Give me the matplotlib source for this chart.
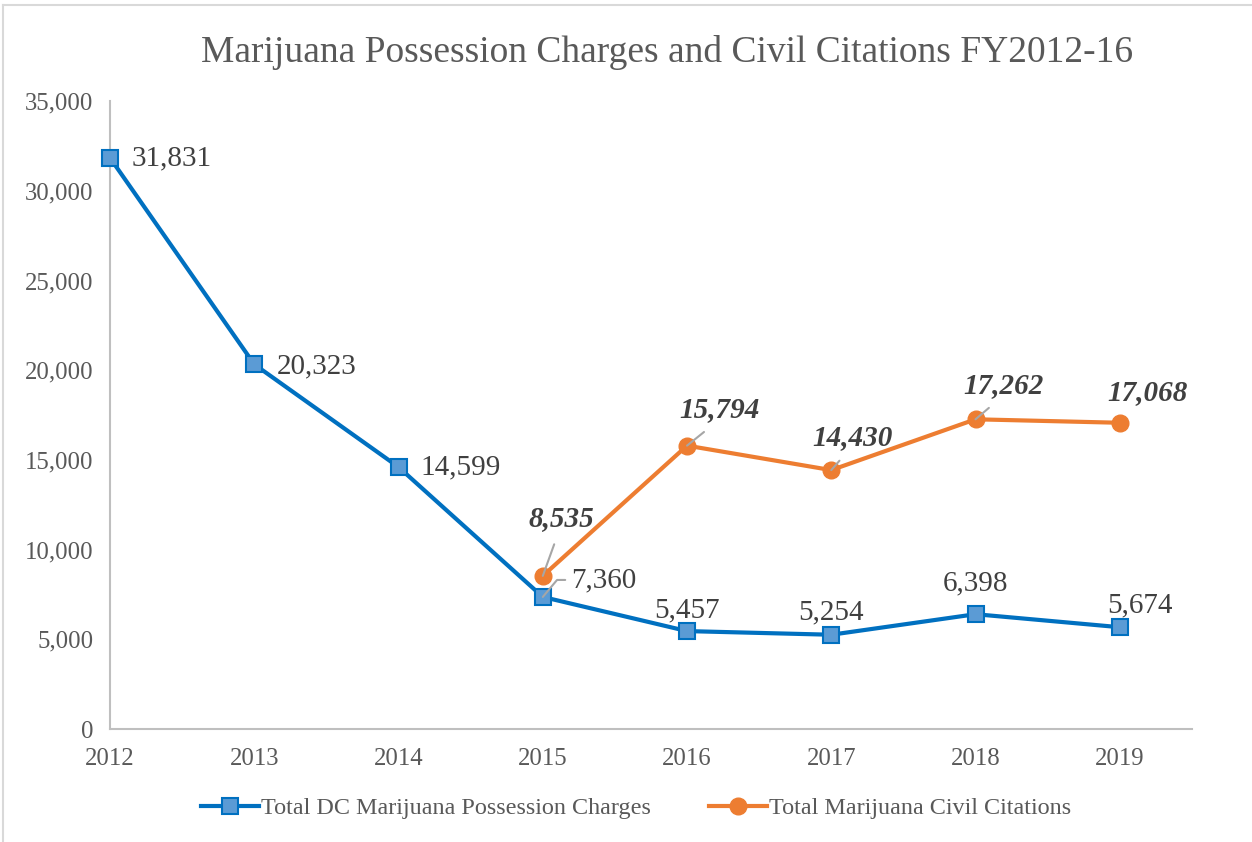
import matplotlib
matplotlib.use("Agg")
import matplotlib.pyplot as plt
from matplotlib.lines import Line2D

years = ["2012", "2013", "2014", "2015", "2016", "2017", "2018", "2019"]
charges = [31831, 20323, 14599, 7360, 5457, 5254, 6398, 5674]
citation_years = ["2015", "2016", "2017", "2018", "2019"]
citations = [8535, 15794, 14430, 17262, 17068]

# label offsets in pixels (dx, dy) and whether a leader line is drawn
charge_offsets = [(22, 0, "left"), (22, -2, "left"), (22, 0, "left"), (28, 17, "left"),
                  (0, 21, "center"), (0, 22, "center"), (0, 31, "center"), (20, 22, "center")]
citation_offsets = [(19, 57, True), (32, 36, True), (21, 33, True), (28, 34, True), (28, 30, False)]

BLUE = "#0070C0"
BLUE_FILL = "#5B9BD5"
ORANGE = "#ED7D31"
GRAY_TXT = "#595959"
DARK_TXT = "#404040"
LEADER = "#A6A6A6"
SERIF = ["Liberation Serif", "DejaVu Serif"]

plt.rcParams["font.family"] = SERIF

fig = plt.figure(figsize=(12.52, 8.42), dpi=100)
ax = fig.add_axes([0.0879, 0.1342, 0.8641, 0.7458])

x_c = list(range(len(years)))
x_o = [years.index(y) for y in citation_years]

ax.plot(x_c, charges, color=BLUE, lw=3, marker="s", ms=11,
        mfc=BLUE_FILL, mec=BLUE, mew=1.5, zorder=3, clip_on=False)
ax.plot(x_o, citations, color=ORANGE, lw=3, marker="o", ms=12,
        mfc=ORANGE, mec=ORANGE, zorder=3, clip_on=False)

for xi, v, (dx, dy, ha) in zip(x_c, charges, charge_offsets):
    kw = {}
    if xi == 3:
        kw = dict(arrowprops=dict(arrowstyle="-", color=LEADER, lw=1.5,
                                  shrinkA=2, shrinkB=0, relpos=(0, 0.5),
                                  connectionstyle="angle,angleA=0,angleB=50,rad=0"))
    ax.annotate(f"{v:,}", (xi, v), xytext=(dx, dy), textcoords="offset pixels",
                ha=ha, va="center", fontsize=21, color=DARK_TXT, zorder=4, **kw)

for xi, v, (dx, dy, lead) in zip(x_o, citations, citation_offsets):
    kw = {}
    if lead:
        kw = dict(arrowprops=dict(arrowstyle="-", color=LEADER, lw=1.5,
                                  shrinkA=7, shrinkB=0, relpos=(0.45, 0)))
    ax.annotate(f"{v:,}", (xi, v), xytext=(dx, dy), textcoords="offset pixels",
                ha="center", va="center", fontsize=21, color=DARK_TXT,
                fontweight="bold", fontstyle="italic", zorder=4, **kw)

ax.set_xlim(0, 7.5)
ax.set_ylim(0, 35000)
ax.set_xticks(x_c)
ax.set_xticklabels(years)
ax.set_yticks(range(0, 35001, 5000))
ax.set_yticklabels([f"{t:,}" for t in range(0, 35001, 5000)])
ax.tick_params(axis="both", length=0, labelsize=17.8, colors=GRAY_TXT)
ax.tick_params(axis="x", pad=14)
ax.tick_params(axis="y", pad=12)
for s in ["top", "right"]:
    ax.spines[s].set_visible(False)
for s in ["left", "bottom"]:
    ax.spines[s].set_color("#BFBFBF")
    ax.spines[s].set_linewidth(1.5)

fig.text(0.533, 0.938, "Marijuana Possession Charges and Civil Citations FY2012-16",
         ha="center", va="center", fontsize=27, color=GRAY_TXT)

handles = [
    Line2D([], [], color=BLUE, lw=3, marker="s", ms=11, mfc=BLUE_FILL, mec=BLUE, mew=1.5),
    Line2D([], [], color=ORANGE, lw=3, marker="o", ms=12, mfc=ORANGE, mec=ORANGE),
]
fig.legend(handles, ["Total DC Marijuana Possession Charges", "Total Marijuana Civil Citations"],
           loc="center", bbox_to_anchor=(0.508, 0.04), ncol=2, frameon=False,
           fontsize=17.4, labelcolor=GRAY_TXT, handlelength=2.4, handletextpad=0.1,
           columnspacing=2.4)

# chart border (top and left edges visible in the crop)
fig.add_artist(Line2D([0.0024, 1.0], [0.9935, 0.9935], color="#D9D9D9", lw=1.5))
fig.add_artist(Line2D([0.0024, 0.0024], [0.0, 0.9935], color="#D9D9D9", lw=1.5))

fig.savefig("out.png", dpi=100)
